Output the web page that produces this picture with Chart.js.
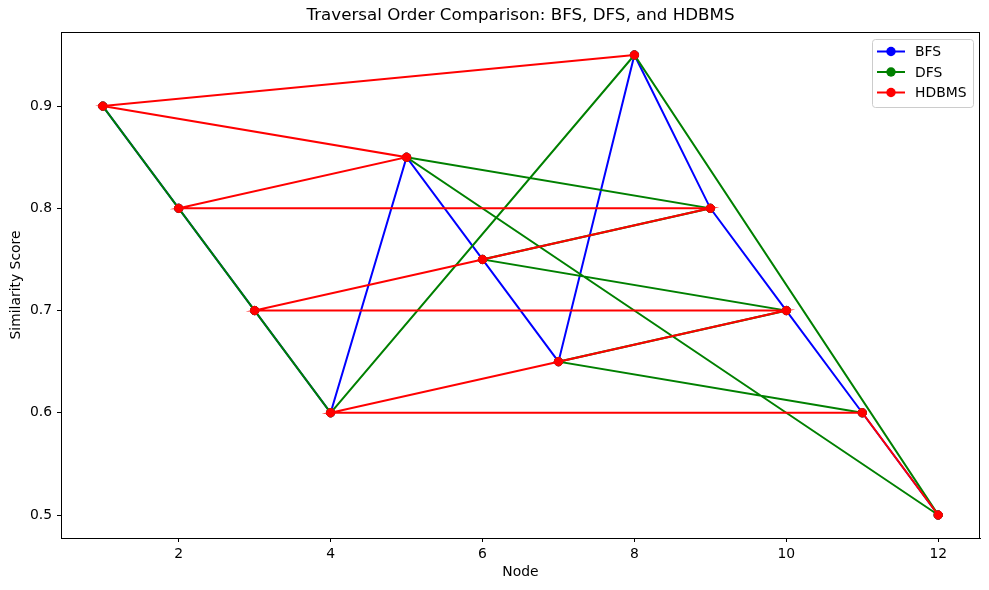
<!DOCTYPE html>
<html lang="en">
<head>
<meta charset="UTF-8">
<title>Traversal Order Comparison</title>
<script src="https://cdn.jsdelivr.net/npm/chart.js"></script>
<style>
    html, body { margin: 0; padding: 0; background: #fff; }
</style>
</head>
<body>
<canvas id="chart" width="989" height="590"></canvas>
<script>
    // node ids and their similarity score
    const nodes = [1, 2, 3, 4, 5, 6, 7, 8, 9, 10, 11, 12];
    const scores = [0.9, 0.8, 0.7, 0.6, 0.85, 0.75, 0.65, 0.95, 0.8, 0.7, 0.6, 0.5];

    // visiting order of each traversal
    const bfsOrder = [1, 2, 3, 4, 5, 6, 7, 8, 9, 10, 11, 12];
    const dfsOrder = [1, 2, 3, 4, 8, 12, 5, 9, 6, 10, 7, 11];
    const hdbmsOrder = [8, 1, 5, 2, 9, 6, 3, 10, 7, 4, 11, 12];

    const xTicks = [2, 4, 6, 8, 10, 12];
    const yTicks = [0.5, 0.6, 0.7, 0.8, 0.9];

    const FONT = 'DejaVu Sans';

    function path(order) {
        return order.map(n => ({ x: n, y: scores[nodes.indexOf(n)] }));
    }

    const series = [
        { label: 'BFS', order: bfsOrder, color: '#0000ff', drawOrder: 3 },
        { label: 'DFS', order: dfsOrder, color: '#008000', drawOrder: 2 },
        { label: 'HDBMS', order: hdbmsOrder, color: '#ff0000', drawOrder: 1 }
    ];

    // title, frame and the legend box inside the axes
    const decorations = {
        id: 'decorations',
        afterDraw(chart) {
            const ctx = chart.ctx;
            const a = chart.chartArea;
            ctx.save();

            ctx.strokeStyle = '#000';
            ctx.lineWidth = 1;
            ctx.strokeRect(a.left + 0.5, a.top + 0.5, a.right - a.left - 1, a.bottom - a.top);

            ctx.fillStyle = '#000';
            ctx.font = '16.7px "' + FONT + '"';
            ctx.textAlign = 'center';
            ctx.textBaseline = 'middle';
            ctx.fillText('Traversal Order Comparison: BFS, DFS, and HDBMS', (a.left + a.right) / 2, 16);

            // legend
            const bx = 872, by = 39, bw = 101, bh = 68;
            ctx.beginPath();
            ctx.roundRect(bx + 0.5, by + 0.5, bw, bh, 3);
            ctx.fillStyle = 'rgba(255,255,255,0.8)';
            ctx.fill();
            ctx.strokeStyle = '#cccccc';
            ctx.stroke();

            ctx.font = '13.9px "' + FONT + '"';
            ctx.textAlign = 'left';
            series.forEach((s, i) => {
                const y = 51.5 + i * 20.5;
                ctx.strokeStyle = s.color;
                ctx.lineWidth = 2;
                ctx.beginPath();
                ctx.moveTo(877, y);
                ctx.lineTo(905, y);
                ctx.stroke();
                ctx.fillStyle = s.color;
                ctx.beginPath();
                ctx.arc(891, y, 4.7, 0, Math.PI * 2);
                ctx.fill();
                ctx.fillStyle = '#000';
                ctx.fillText(s.label, 915, y + 1);
            });
            ctx.restore();
        }
    };

    const ctx = document.getElementById('chart').getContext('2d');
    new Chart(ctx, {
        type: 'line',
        data: {
            datasets: series.map(s => ({
                label: s.label,
                data: path(s.order),
                borderColor: s.color,
                backgroundColor: s.color,
                pointBackgroundColor: s.color,
                pointBorderColor: s.color,
                borderWidth: 2,
                pointRadius: 4.2,
                pointBorderWidth: 1,
                tension: 0,
                fill: false,
                order: s.drawOrder
            }))
        },
        options: {
            responsive: false,
            animation: false,
            layout: { padding: { top: 32, right: 9, left: 0, bottom: 0 } },
            plugins: {
                legend: { display: false },
                title: { display: false },
                tooltip: { enabled: false }
            },
            scales: {
                x: {
                    type: 'linear',
                    min: 0.45,
                    max: 12.55,
                    afterBuildTicks: scale => { scale.ticks = xTicks.map(v => ({ value: v })); },
                    afterFit: scale => { scale.height = 52; },
                    grid: { drawOnChartArea: false, drawTicks: true, tickLength: 4, color: '#000' },
                    border: { display: true, color: '#000' },
                    ticks: { color: '#000', padding: 4, maxRotation: 0, font: { family: FONT, size: 13.9 } },
                    title: { display: true, text: 'Node', color: '#000', padding: { bottom: 9 }, font: { family: FONT, size: 13.9 } }
                },
                y: {
                    type: 'linear',
                    min: 0.4775,
                    max: 0.9725,
                    afterBuildTicks: scale => { scale.ticks = yTicks.map(v => ({ value: v })); },
                    afterFit: scale => { scale.width = 61; },
                    grid: { drawOnChartArea: false, drawTicks: true, tickLength: 4, color: '#000' },
                    border: { display: true, color: '#000' },
                    ticks: { color: '#000', padding: 5, callback: v => v.toFixed(1), font: { family: FONT, size: 13.9 } },
                    title: { display: true, text: 'Similarity Score', color: '#000', padding: { top: 8 }, font: { family: FONT, size: 13.9 } }
                }
            }
        },
        plugins: [decorations]
    });
</script>
</body>
</html>
